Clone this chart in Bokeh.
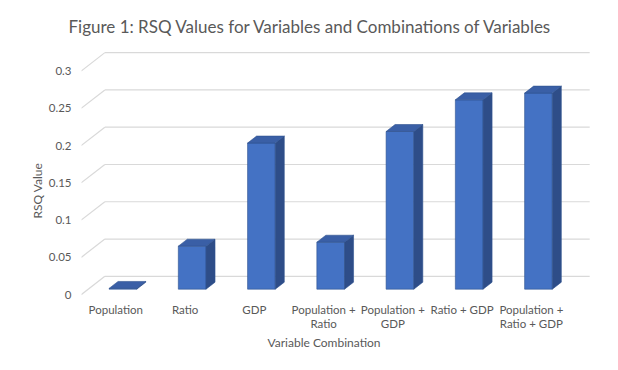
import math
from bokeh.plotting import figure
from bokeh.models import Range1d, FixedTicker, CustomJSTickFormatter, LinearAxis, Title
from bokeh.embed import file_html
from bokeh.resources import INLINE

# ---- data ----
categories = ["Population", "Ratio", "GDP", "Population +\nRatio",
              "Population +\nGDP", "Ratio + GDP", "Population +\nRatio + GDP"]
rsq_values = [0.001, 0.0577, 0.196, 0.063, 0.2115, 0.254, 0.263]
y_ticks = [0, 0.05, 0.1, 0.15, 0.2, 0.25, 0.3]
title_text = "Figure 1: RSQ Values for Variables and Combinations of Variables"
x_title = "Variable Combination"
y_title = "RSQ Value"

# ---- geometry (canvas pixels) ----
W, H = 602, 354
CAT_PX = 69.26               # pixels per category
VAL_PX = 745.5               # pixels per unit of RSQ
X0_PX = 115.3                # category 0 centre, front plane
Y0_PX = 294.2                # value 0, front plane
DEPTH_X = 23.7 / CAT_PX      # full depth offset in x data units
DEPTH_Y = 18.4 / VAL_PX      # full depth offset in y data units
BAR_W = 0.40
BAR_D0 = 0.30                # bar front depth fraction
BAR_DD = 0.38                # bar depth fraction

L, R, T, B = 81, 4, 45, 57
x_start = (L - X0_PX) / CAT_PX
x_end = (W - R - X0_PX) / CAT_PX
y_start = (Y0_PX - (H - B)) / VAL_PX
y_end = (Y0_PX - T) / VAL_PX

p = figure(width=W, height=H, x_range=Range1d(x_start, x_end),
           y_range=Range1d(y_start, y_end), title=None,
           min_border_left=L, min_border_right=R, min_border_top=T, min_border_bottom=B,
           output_backend="svg", toolbar_location=None,
           x_axis_type=None, y_axis_type=None)
p.xgrid.visible = False
p.ygrid.visible = False
p.outline_line_color = None
p.background_fill_color = "white"
p.border_fill_color = "white"

TXT = "#595959"
FONT = "Lato"

# ---- walls / gridlines ----
n = len(categories)
fx0, fx1 = -0.5, n - 0.5
gx0, gy0, gx1, gy1 = [], [], [], []
for t in y_ticks:
    gx0.append(fx0 + DEPTH_X); gy0.append(t + DEPTH_Y)
    gx1.append(fx1 + DEPTH_X); gy1.append(t + DEPTH_Y)
    gx0.append(fx0); gy0.append(t)
    gx1.append(fx0 + DEPTH_X); gy1.append(t + DEPTH_Y)
p.segment(gx0, gy0, gx1, gy1, line_color="#D9D9D9", line_width=1.2)

# ---- 3D bars ----
xs, ys, fills = [], [], []
FRONT, SIDE, TOP = "#4472C4", "#2E4D88", "#3A5FA6"
dx0, dy0 = BAR_D0 * DEPTH_X, BAR_D0 * DEPTH_Y
ddx, ddy = BAR_DD * DEPTH_X, BAR_DD * DEPTH_Y
for i, v in enumerate(rsq_values):
    xl = i - BAR_W / 2 + dx0
    xr = i + BAR_W / 2 + dx0
    yb = dy0
    yt = v + dy0
    xs.append([xl, xr, xr, xl]); ys.append([yb, yb, yt, yt]); fills.append(FRONT)
    xs.append([xr, xr + ddx, xr + ddx, xr]); ys.append([yb, yb + ddy, yt + ddy, yt]); fills.append(SIDE)
    xs.append([xl, xr, xr + ddx, xl + ddx]); ys.append([yt, yt, yt + ddy, yt + ddy]); fills.append(TOP)
p.patches(xs, ys, fill_color=fills, line_color="#2F528F", line_width=0.6)

# ---- axes ----
yaxis = LinearAxis(ticker=FixedTicker(ticks=y_ticks),
                   formatter=CustomJSTickFormatter(code="return String(Math.round(tick*100)/100);"))
yaxis.axis_line_color = None
yaxis.major_tick_line_color = None
yaxis.minor_tick_line_color = None
yaxis.major_tick_out = 0
yaxis.major_tick_in = 0
yaxis.major_label_standoff = 10
yaxis.major_label_text_font = FONT
yaxis.major_label_text_font_size = "11.5px"
yaxis.major_label_text_color = TXT
p.add_layout(yaxis, "left")

xaxis = LinearAxis(ticker=FixedTicker(ticks=list(range(n))),
                   major_label_overrides={i: c for i, c in enumerate(categories)})
xaxis.axis_line_color = None
xaxis.major_tick_line_color = None
xaxis.minor_tick_line_color = None
xaxis.major_tick_out = 0
xaxis.major_tick_in = 0
xaxis.major_label_standoff = 5
xaxis.major_label_text_font = FONT
xaxis.major_label_text_font_size = "11.5px"
xaxis.major_label_text_color = TXT
xaxis.major_label_text_line_height = 1.1
p.add_layout(xaxis, "below")

# ---- titles ----
p.add_layout(Title(text=title_text, align="left", offset=-13, standoff=18,
                   text_font=FONT, text_font_size="17px", text_font_style="normal",
                   text_color=TXT), "above")
p.add_layout(Title(text=x_title, align="left", offset=186, standoff=0,
                   text_font=FONT, text_font_size="12px", text_font_style="normal",
                   text_color=TXT), "below")
p.add_layout(Title(text=y_title, align="left", offset=79, standoff=2,
                   text_font=FONT, text_font_size="12px", text_font_style="normal",
                   text_color=TXT), "left")

open("out.html", "w").write(file_html(p, INLINE))
